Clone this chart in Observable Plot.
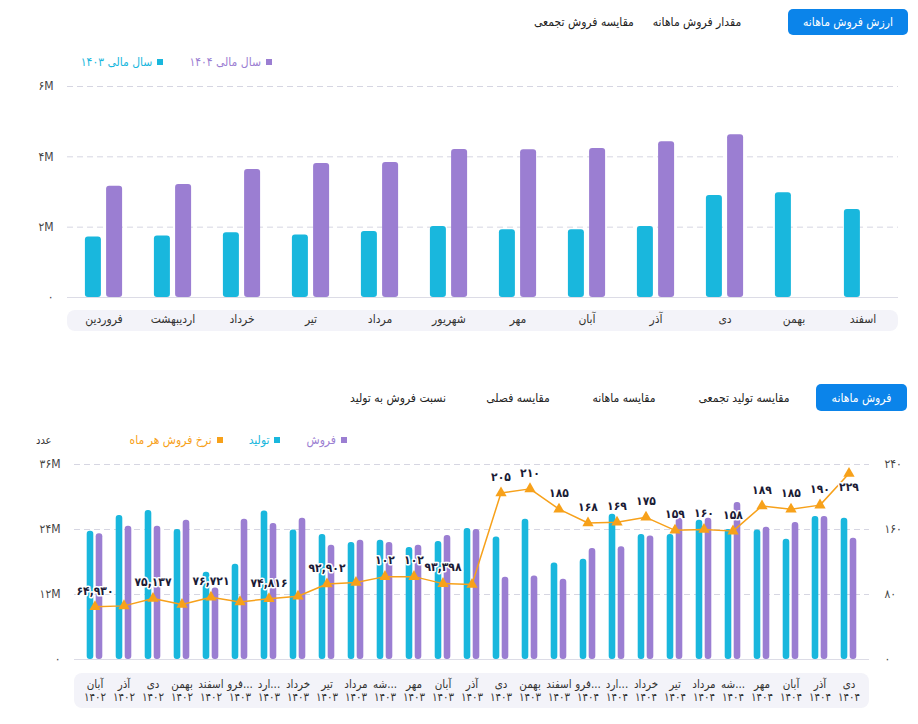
<!DOCTYPE html>
<html><head><meta charset="utf-8">
<script src="https://cdn.jsdelivr.net/npm/d3@7"></script>
<script src="https://cdn.jsdelivr.net/npm/@observablehq/plot@0.6"></script>
<style>
body{margin:0;width:918px;height:724px;background:#fff;font-family:"DejaVu Sans Condensed","DejaVu Sans",sans-serif;position:relative;overflow:hidden}
.tab{position:absolute;transform:translate(-50%,-50%);font-size:12px;color:#222;white-space:nowrap;direction:rtl}
.btn{position:absolute;background:#0b84ea;color:#fff;border-radius:5px;font-size:12px;display:flex;align-items:center;justify-content:center;direction:rtl;white-space:nowrap}
.legend{position:absolute;display:flex;direction:rtl;gap:26px;font-size:12px;transform:translateY(-50%);white-space:nowrap}
.legend .it{display:flex;align-items:center}
.legend .sw{display:inline-block;width:6px;height:6px;margin-left:5px}
.band{position:absolute;background:#f3f3f9;border-radius:8px}
.chart{position:absolute;left:0}
.unit{position:absolute;font-size:11px;color:#333;transform:translateY(-50%)}
</style></head><body>

<div class="btn" style="left:788px;top:9px;width:120px;height:26px">ارزش فروش ماهانه</div>
<div class="tab" style="left:697px;top:22px">مقدار فروش ماهانه</div>
<div class="tab" style="left:584px;top:22px">مقایسه فروش تجمعی</div>

<div class="legend" style="right:646px;top:62px">
  <div class="it" style="color:#9b7ed2"><span class="sw" style="background:#9b7ed2"></span>سال مالی ۱۴۰۴</div>
  <div class="it" style="color:#19b7dd"><span class="sw" style="background:#19b7dd"></span>سال مالی ۱۴۰۳</div>
</div>

<div class="band" style="left:67px;top:310px;width:831px;height:21px"></div>
<div class="chart" id="top" style="top:70px"></div>

<div class="btn" style="left:816px;top:384px;width:91px;height:27px">فروش ماهانه</div>
<div class="tab" style="left:744px;top:398px">مقایسه تولید تجمعی</div>
<div class="tab" style="left:624px;top:398px">مقایسه ماهانه</div>
<div class="tab" style="left:518px;top:398px">مقایسه فصلی</div>
<div class="tab" style="left:398px;top:398px">نسبت فروش به تولید</div>

<div class="legend" style="right:571px;top:440px">
  <div class="it" style="color:#9b7ed2"><span class="sw" style="background:#9b7ed2"></span>فروش</div>
  <div class="it" style="color:#19b7dd"><span class="sw" style="background:#19b7dd"></span>تولید</div>
  <div class="it" style="color:#f7a11a"><span class="sw" style="background:#f7a11a"></span>نرخ فروش هر ماه</div>
</div>
<div class="unit" style="left:36px;top:440px">عدد</div>

<div class="band" style="left:74px;top:673px;width:795px;height:35px"></div>
<div class="chart" id="bottom" style="top:450px"></div>

<script>
// ---------- data: top chart (monthly sales value, millions) ----------
const months = ["فروردین","اردیبهشت","خرداد","تیر","مرداد","شهریور","مهر","آبان","آذر","دی","بهمن","اسفند"];
const value1403 = [1.72,1.75,1.84,1.78,1.88,2.02,1.93,1.93,2.02,2.90,2.98,2.50];
const value1404 = [3.16,3.21,3.64,3.81,3.84,4.21,4.20,4.24,4.43,4.63,null,null];
const topTicks = [0,2,4,6];

// ---------- data: bottom chart (monthly sales / production, millions; rate) ----------
const periodMonths = ["آبان","آذر","دی","بهمن","اسفند","فرو...","ارد...","خرداد","تیر","مرداد","شه...","مهر","آبان","آذر","دی","بهمن","اسفند","فرو...","ارد...","خرداد","تیر","مرداد","شه...","مهر","آبان","آذر","دی"];
const periodYears = ["۱۴۰۲","۱۴۰۲","۱۴۰۲","۱۴۰۲","۱۴۰۲","۱۴۰۳","۱۴۰۳","۱۴۰۳","۱۴۰۳","۱۴۰۳","۱۴۰۳","۱۴۰۳","۱۴۰۳","۱۴۰۳","۱۴۰۳","۱۴۰۳","۱۴۰۳","۱۴۰۴","۱۴۰۴","۱۴۰۴","۱۴۰۴","۱۴۰۴","۱۴۰۴","۱۴۰۴","۱۴۰۴","۱۴۰۴","۱۴۰۴"];
const production = [23.7,26.6,27.5,24.0,16.1,17.6,27.4,23.9,23.1,21.6,22.0,20.7,21.8,24.2,22.6,25.9,17.8,18.5,26.8,23.1,23.1,25.7,24.0,23.9,22.2,26.4,26.1];
const sales = [23.2,24.6,24.6,25.7,13.2,25.9,25.1,26.1,21.1,22.0,21.6,21.1,22.9,24.0,15.2,15.4,14.8,20.5,20.8,22.8,26.1,26.1,29.0,24.4,25.3,26.4,22.4];
const rate = [64.93,66.0,75.137,67.7,76.721,70.9,74.816,77.9,92.902,94.7,102,102,93.398,92.3,205,210,185,168,169,175,159,160,158,189,185,190,229];
const rateLabelShown = [1,0,1,0,1,0,1,0,1,0,1,1,1,0,1,1,1,1,1,1,1,1,1,1,1,1,1];
const leftTicks = [0,12,24,36];
const rightTicks = [0,80,160,240];

// ---------- helpers ----------
const CYAN = "#19b7dd", PURPLE = "#9b7ed2", ORANGE = "#f7a11a";
const fa = s => String(s).replace(/[0-9]/g, d => "۰۱۲۳۴۵۶۷۸۹"[+d]);
const fmtRate = v => v < 100 ? fa(d3.format(",")(Math.round(v * 1000))) : fa(Math.round(v));
const FONT = {fontFamily: "DejaVu Sans Condensed, DejaVu Sans, sans-serif", fontSize: "12px", color: "#444", background: "transparent", overflow: "visible"};

// ---------- top chart ----------
const t1403 = months.map((m, i) => ({month: m, value: value1403[i]})).filter(d => d.value != null);
const t1404 = months.map((m, i) => ({month: m, value: value1404[i]})).filter(d => d.value != null);

const topPlot = Plot.plot({
  width: 918, height: 270,
  marginTop: 16, marginBottom: 43, marginLeft: 67, marginRight: 20,
  style: FONT,
  x: {domain: months, padding: 0},
  y: {domain: [0, 6]},
  marks: [
    Plot.gridY(topTicks.slice(1), {stroke: "#d6d6e2", strokeOpacity: 1, strokeDasharray: "6,4"}),
    Plot.ruleY([0], {stroke: "#dcdce6"}),
    Plot.barY(t1403, {x: "month", y: "value", fill: CYAN, insetLeft: 26.5, insetRight: 26.5, dx: -10.6, rx: 3}),
    Plot.barY(t1404, {x: "month", y: "value", fill: PURPLE, insetLeft: 26.5, insetRight: 26.5, dx: 10.6, rx: 3}),
    Plot.axisY(topTicks, {tickSize: 0, tickPadding: 14, label: null, fill: "#444", fontSize: 12,
      tickFormat: v => v === 0 ? "۰" : fa(v) + "M"}),
    Plot.axisX({tickSize: 0, tickPadding: 17, label: null, fill: "#333", fontSize: 12})
  ]
});
document.getElementById("top").appendChild(topPlot);

// ---------- bottom chart ----------
const K = 36 / 240;
const keys = periodMonths.map((_, i) => String(i));
const prodData = keys.map((k, i) => ({k, v: production[i]}));
const salesData = keys.map((k, i) => ({k, v: sales[i]}));
const rateData = keys.map((k, i) => ({k, r: rate[i], y: rate[i] * K, shown: rateLabelShown[i], last: i === keys.length - 1}));

const bottomPlot = Plot.plot({
  width: 918, height: 274,
  marginTop: 14, marginBottom: 65, marginLeft: 74, marginRight: 49,
  style: FONT,
  x: {domain: keys, padding: 0},
  y: {domain: [0, 36]},
  marks: [
    Plot.gridY(leftTicks.slice(1), {stroke: "#d6d6e2", strokeOpacity: 1, strokeDasharray: "6,4"}),
    Plot.ruleY([0], {stroke: "#dcdce6"}),
    Plot.barY(prodData, {x: "k", y: "v", fill: CYAN, insetLeft: 11.2, insetRight: 11.2, dx: -4.5, rx: 3}),
    Plot.barY(salesData, {x: "k", y: "v", fill: PURPLE, insetLeft: 11.2, insetRight: 11.2, dx: 4.5, rx: 3}),
    Plot.line(rateData, {x: "k", y: "y", stroke: ORANGE, strokeWidth: 1.5}),
    Plot.dot(rateData, {x: "k", y: "y", symbol: "triangle", r: 4.2, fill: ORANGE, stroke: "none"}),
    Plot.text(rateData.filter(d => d.shown && !d.last), {x: "k", y: "y", text: d => fmtRate(d.r), dy: -16,
      fontWeight: "bold", fontSize: 12, fill: "#1b1b35", stroke: "white", strokeWidth: 3, paintOrder: "stroke"}),
    Plot.text(rateData.filter(d => d.shown && d.last), {x: "k", y: "y", text: d => fmtRate(d.r), dy: 14,
      fontWeight: "bold", fontSize: 12, fill: "#1b1b35", stroke: "white", strokeWidth: 3, paintOrder: "stroke"}),
    Plot.axisY(leftTicks, {anchor: "left", tickSize: 0, tickPadding: 14, label: null, fill: "#444", fontSize: 12,
      tickFormat: v => v === 0 ? "۰" : fa(v) + "M"}),
    Plot.axisY(rightTicks.map(v => v * K), {anchor: "right", tickSize: 0, tickPadding: 15, label: null, fill: "#444", fontSize: 12,
      tickFormat: v => fa(Math.round(v / K))}),
    Plot.axisX({tickSize: 0, tickPadding: 19, label: null, fill: "#333", fontSize: 11.5, lineHeight: 1.15,
      tickFormat: k => periodMonths[+k] + "\n" + periodYears[+k]})
  ]
});
document.getElementById("bottom").appendChild(bottomPlot);
</script>
</body></html>
